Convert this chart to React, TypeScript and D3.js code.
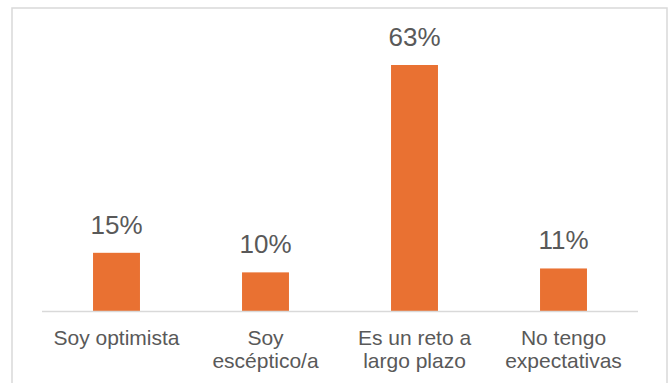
import React from "react";
import * as d3 from "d3";

const categories: string[][] = [
  ["Soy optimista"],
  ["Soy", "escéptico/a"],
  ["Es un reto a", "largo plazo"],
  ["No tengo", "expectativas"],
];
const values: number[] = [15, 10, 63, 11];
const labels: string[] = ["15%", "10%", "63%", "11%"];

const W = 671;
const H = 383;

export default function App() {
  const keys = categories.map((c) => c.join(" "));
  const x = d3
    .scaleBand<string>()
    .domain(keys)
    .range([42, 638])
    .paddingInner(0.685)
    .paddingOuter(0.3425);
  const y = d3.scaleLinear().domain([0, 63]).range([311.5, 65]);
  const font = "'Liberation Sans', Arial, sans-serif";
  const textColor = "#595959";

  return (
    <svg
      width={W}
      height={H}
      style={{ position: "absolute", left: 0, top: 0, display: "block", background: "#fff" }}
    >
      <rect x={0} y={0} width={W} height={H} fill="#fff" />
      <rect x={12} y={8} width={655} height={420} fill="#fff" stroke="#d9d9d9" strokeWidth={1.5} />
      {values.map((v, i) => (
        <rect
          key={keys[i]}
          x={x(keys[i])}
          y={y(v)}
          width={x.bandwidth()}
          height={y(0) - y(v)}
          fill="#E97132"
        />
      ))}
      <line x1={42} x2={638} y1={y(0)} y2={y(0)} stroke="#d9d9d9" strokeWidth={1.5} />
      {values.map((v, i) => (
        <text
          key={"l" + i}
          x={(x(keys[i]) as number) + x.bandwidth() / 2}
          y={y(v) - 19}
          textAnchor="middle"
          fontFamily={font}
          fontSize={26}
          fill={textColor}
        >
          {labels[i]}
        </text>
      ))}
      {categories.map((lines, i) => (
        <text
          key={"c" + i}
          x={(x(keys[i]) as number) + x.bandwidth() / 2}
          y={345}
          textAnchor="middle"
          fontFamily={font}
          fontSize={21}
          fill={textColor}
        >
          {lines.map((ln, j) => (
            <tspan key={j} x={(x(keys[i]) as number) + x.bandwidth() / 2} dy={j === 0 ? 0 : 23}>
              {ln}
            </tspan>
          ))}
        </text>
      ))}
    </svg>
  );
}
